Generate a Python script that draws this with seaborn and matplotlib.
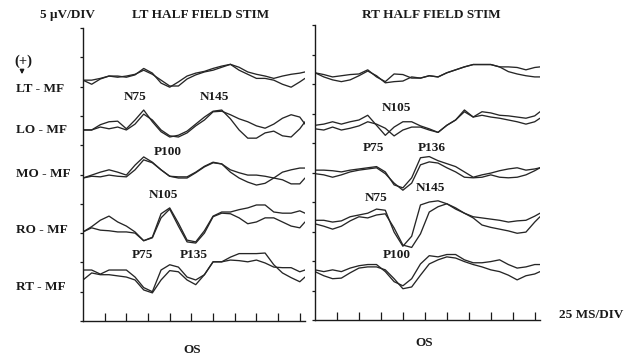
import numpy as np
import pandas as pd
import matplotlib
matplotlib.use("Agg")
import matplotlib.pyplot as plt
import seaborn as sns

# time base (ms), 25 ms per division
time_ms = [0, 10, 20, 30, 40, 50, 60, 70, 80, 90, 100, 110, 120, 130, 140,
           150, 160, 170, 180, 190, 200, 210, 220, 230, 240, 250, 256]

channels = ["LT - MF", "LO - MF", "MO - MF", "RO - MF", "RT - MF"]

# channel baselines in uV above the bottom axis (5 uV per division)
left_offsets = [41.1, 32.6, 24.4, 15.2, 7.7]
right_offsets = [41.9, 32.7, 25.1, 16.6, 8.5]

# ---- LT half field stim, two superimposed runs per channel (uV) ----
left_lt_a = [0, -0.7, 0.2, 0.7, 0.7, 0.5, 0.9, 2.0, 1.2, -0.5, -1.2, -0.3, 0.7, 1.2, 1.5, 2.0, 2.4, 2.7, 1.7, 1.0, 0.3, 0.3, 0, -0.7, -1.2, -0.3, 0.3]
left_lt_b = [0, 0, 0.3, 0.7, 0.5, 0.7, 1.0, 1.7, 1.0, 0, -1.0, -1.0, 0.2, 0.9, 1.4, 1.7, 2.2, 2.7, 2.2, 1.4, 1.0, 0.7, 0.3, 0.7, 1.0, 1.2, 1.4]
left_lo_a = [0, 0, 0.9, 1.4, 1.5, 0.2, 1.7, 3.4, 1.4, -0.3, -1.2, -0.9, -0.2, 1.0, 2.2, 3.2, 3.4, 1.9, 0, -1.4, -1.4, -0.5, -0.2, -1.0, -1.2, 0.2, 1.4]
left_lo_b = [0, 0, 0.5, 0.2, 0.5, 0, 1.0, 2.7, 1.7, 0, -1.0, -1.2, -0.5, 0.7, 1.7, 3.1, 3.2, 2.6, 1.9, 1.4, 0.7, 0.3, 1.0, 2.0, 2.6, 2.2, 1.0]
left_mo_a = [0, 0.5, 1.0, 1.4, 1.0, 0.5, 2.2, 3.6, 2.7, 1.4, 0.3, 0.2, 0.2, 1.0, 2.0, 2.7, 2.4, 1.4, 0.9, 0.5, 0.5, 0.3, 0, 1.0, 1.4, 1.7, 1.7]
left_mo_b = [0, 0.3, 0.2, 0.5, 0.3, 0.2, 1.4, 3.1, 2.6, 1.4, 0.3, 0, 0, 0.9, 1.9, 2.6, 2.4, 1.0, 0, -0.7, -1.2, -0.9, 0, -0.3, -1.0, -1.0, 0]
left_ro_a = [0, 0.9, 2.0, 2.7, 1.7, 1.0, 0, -1.5, -0.9, 3.1, 4.1, 1.5, -1.4, -1.7, 0.2, 2.7, 3.4, 3.4, 3.8, 4.1, 4.6, 4.6, 3.4, 3.2, 3.2, 3.6, 3.2]
left_ro_b = [0, 0.7, 0.3, 0.2, 0, 0, -0.2, -1.5, -1.0, 2.4, 3.9, 1.0, -1.7, -1.9, -0.2, 2.6, 3.2, 3.1, 2.4, 1.4, 1.7, 2.4, 2.4, 1.7, 1.0, 0.7, 1.7]
left_rt_a = [1.0, 1.0, 0.3, 1.0, 1.0, 1.0, -0.2, -2.0, -2.7, 1.0, 1.9, 1.5, -0.2, -0.7, 0.2, 2.4, 2.4, 3.2, 3.8, 3.8, 3.8, 3.9, 1.9, 0.5, -0.3, -1.0, -0.2]
left_rt_b = [-0.7, 0.5, 0.2, 0.2, 0, -0.2, -0.7, -2.4, -2.9, -0.7, 0.9, 0.7, -0.7, -1.5, 0.2, 2.4, 2.4, 2.7, 2.6, 2.4, 2.7, 2.2, 1.5, 1.4, 1.4, 0.7, 1.0]

# ---- RT half field stim ----
right_lt_a = [0, -0.3, -0.7, -0.5, -0.3, -0.2, 0.5, -0.7, -1.5, -0.2, -0.3, -0.9, -0.9, -0.5, -0.7, 0, 0.5, 1.0, 1.4, 1.4, 1.4, 1.0, 1.0, 0.9, 0.5, 0.9, 1.0]
right_lt_b = [0, -0.7, -1.2, -1.5, -1.2, -0.5, 0.3, -0.5, -1.7, -1.5, -1.4, -0.7, -0.9, -0.5, -0.7, 0, 0.5, 1.0, 1.4, 1.4, 1.4, 1.0, 0.2, -0.2, -0.5, -0.7, -0.7]
right_lo_a = [0.3, 0.5, 0.9, 0.5, 0.9, 1.2, 2.0, 0.3, -1.4, 0, 0.9, 0.9, 0.2, -0.3, -0.9, 0.3, 1.2, 2.9, 1.7, 2.6, 2.4, 2.0, 1.9, 1.7, 1.5, 1.9, 2.6]
right_lo_b = [-0.3, -0.5, 0, -0.5, -0.2, 0.2, 0.9, 0.5, -0.2, -1.5, -0.5, 0, 0, -0.5, -0.9, 0.3, 1.2, 2.6, 1.7, 2.0, 1.7, 1.5, 1.2, 0.9, 0.5, 0.9, 1.5]
right_mo_a = [0.3, 0.3, 0.2, 0, 0.3, 0.5, 0.7, 0.9, 0, -2.2, -2.7, -1.0, 2.4, 2.6, 1.9, 1.4, 0.9, 0, -0.9, -0.5, -0.2, 0.2, 0.5, 0.7, 0.3, 0.5, 0.7]
right_mo_b = [-0.3, -0.5, -0.9, -0.5, 0, 0.3, 0.5, 0.7, -0.3, -1.9, -3.1, -1.9, 1.2, 1.7, 1.5, 0.7, 0, -0.9, -1.0, -0.9, -0.5, -0.9, -1.0, -0.9, -0.5, 0.2, 0.7]
right_ro_a = [0.3, 0.3, 0, 0.2, 0.9, 1.2, 1.5, 2.2, 2.0, -1.7, -4.1, -2.4, 2.9, 3.4, 3.6, 3.1, 2.2, 1.5, 0.9, 0.7, 0.5, 0.3, 0, 0.2, 0.3, 1.0, 1.5]
right_ro_b = [-0.3, -0.7, -1.2, -0.7, 0.2, 0.9, 0.7, 1.2, 1.4, -1.0, -3.9, -4.3, -2.0, 1.7, 2.6, 3.1, 2.4, 1.5, 0.7, -0.5, -0.9, -1.2, -1.5, -1.9, -1.7, 0, 0.9]
right_rt_a = [0, -0.3, 0, -0.3, 0.3, 0.7, 0.9, 0.9, -0.3, -2.0, -2.7, -1.5, 1.0, 2.4, 2.2, 2.6, 2.6, 1.7, 1.2, 1.2, 1.4, 1.7, 0.9, 0.3, 0.5, 0.9, 0.9]
right_rt_b = [-0.3, -1.0, -1.5, -1.4, -0.5, 0.3, 0.5, 0.5, 0, -1.5, -3.2, -2.9, -0.9, 1.0, 1.7, 2.2, 2.0, 1.4, 0.9, 0.5, 0, -0.3, -0.9, -1.7, -1.0, -0.7, -0.3]

# peak labels: (text, ms, uV)
left_peaks = [("N75", 60, 38.2), ("N145", 151, 38.2), ("P100", 98, 28.8),
              ("N105", 93, 21.5), ("P75", 68, 11.3), ("P135", 128, 11.3)]
right_peaks = [("N105", 93, 35.9), ("P75", 66, 29.2), ("P136", 133, 29.2),
               ("N75", 69, 20.7), ("N145", 131, 22.4), ("P100", 93, 11.0)]

left_traces = [(left_lt_a, left_lt_b), (left_lo_a, left_lo_b), (left_mo_a, left_mo_b),
               (left_ro_a, left_ro_b), (left_rt_a, left_rt_b)]
right_traces = [(right_lt_a, right_lt_b), (right_lo_a, right_lo_b), (right_mo_a, right_mo_b),
                (right_ro_a, right_ro_b), (right_rt_a, right_rt_b)]


def to_frame(traces, offsets):
    rows = []
    for ch, (pair, off) in enumerate(zip(traces, offsets)):
        for k, tr in enumerate(pair):
            for t, v in zip(time_ms, tr):
                rows.append({"time": t, "uv": off + v, "trace": f"{ch}-{k}"})
    return pd.DataFrame(rows)


sns.set_style("white")
plt.rcParams["font.family"] = ["Liberation Serif", "DejaVu Serif"]
plt.rcParams["font.weight"] = "bold"

W, H = 625, 357
fig = plt.figure(figsize=(6.25, 3.57), dpi=100)

ink = "#1a1a1a"
fs = 9.5

# axes placed in pixel layout of the original scan
ax_l = fig.add_axes([83 / W, (H - 321) / H, 222 / W, 293 / H])
ax_r = fig.add_axes([315 / W, (H - 320) / H, 225 / W, 295 / H])

for ax, traces, offs, peaks in [(ax_l, left_traces, left_offsets, left_peaks),
                                (ax_r, right_traces, right_offsets, right_peaks)]:
    df = to_frame(traces, offs)
    sns.lineplot(data=df, x="time", y="uv", units="trace", estimator=None,
                 color="#262626", lw=0.95, ax=ax)
    ax.set_xlim(0, 256)
    ax.set_ylim(0, 50)
    ax.set_xticks(np.arange(25, 251, 25))
    ax.set_yticks(np.arange(0, 51, 5))
    ax.set_xticklabels([])
    ax.set_yticklabels([])
    ax.set_xlabel("")
    ax.set_ylabel("")
    ax.tick_params(axis="x", direction="in", length=5.5, width=0.9, color=ink, bottom=True)
    ax.tick_params(axis="y", direction="out", length=2.5, width=0.9, color=ink, left=True)
    for s in ["top", "right"]:
        ax.spines[s].set_visible(False)
    for s in ["left", "bottom"]:
        ax.spines[s].set_color(ink)
        ax.spines[s].set_linewidth(1.0)
    ax.patch.set_alpha(0)
    for name, t, v in peaks:
        ax.text(t, v, name, ha="center", va="center", fontsize=fs,
                fontweight="bold", color=ink)


def ftext(x, y, s, ha="left", size=fs):
    fig.text(x / W, 1 - y / H, s, ha=ha, va="center", fontsize=size,
             fontweight="bold", color=ink)


ftext(40, 15, "5 \u03bcV/DIV")
ftext(132, 15, "LT HALF FIELD STIM")
ftext(362, 15, "RT HALF FIELD STIM")
ftext(14, 61, "(+)", size=10.5)
for name, y in zip(channels, [89, 130, 174, 230, 287]):
    ftext(16, y, name)
ftext(623, 315, "25 MS/DIV", ha="right")
ftext(192, 350, "OS", ha="center")
ftext(424, 343, "OS", ha="center")

fig.add_artist(matplotlib.patches.FancyArrowPatch(
    (22 / W, 1 - 67 / H), (22 / W, 1 - 77 / H), transform=fig.transFigure,
    arrowstyle="-|>", mutation_scale=6, color=ink, lw=1))

fig.savefig("out.png", dpi=100, facecolor="white")
